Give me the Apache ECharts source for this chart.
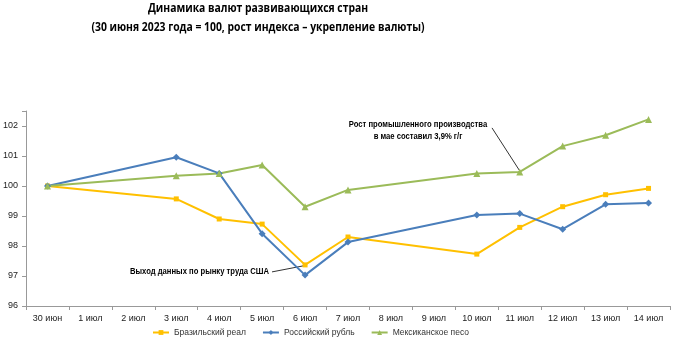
<!DOCTYPE html>
<html>
<head>
<meta charset="utf-8">
<script src="https://cdn.jsdelivr.net/npm/echarts@6/dist/echarts.min.js"></script>
<style>
html,body{margin:0;padding:0;background:#fff;}
#chart{width:676px;height:339px;}
</style>
</head>
<body>
<div id="chart"></div>
<script>
const categories = ['30 июн','1 июл','2 июл','3 июл','4 июл','5 июл','6 июл','7 июл','8 июл','9 июл','10 июл','11 июл','12 июл','13 июл','14 июл'];
const brazil = [100, null, null, 99.57, 98.9, 98.73, 97.37, 98.3, null, null, 97.73, 98.62, 99.31, 99.71, 99.92];
const russia = [100, null, null, 100.96, 100.42, 98.41, 97.03, 98.13, null, null, 99.03, 99.08, 98.56, 99.39, 99.43];
const mexico = [100, null, null, 100.34, 100.42, 100.7, 99.31, 99.87, null, null, 100.42, 100.47, 101.33, 101.69, 102.22];
const yTicks = [96, 97, 98, 99, 100, 101, 102];
const titleLines = ['Динамика валют развивающихся стран', '(30 июня 2023 года = 100, рост индекса – укрепление валюты)'];
const note1 = 'Выход данных по рынку труда США';
const note2a = 'Рост промышленного производства';
const note2b = 'в мае составил 3,9% г/г';

const font = 'Liberation Sans, Arial, sans-serif';
const chart = echarts.init(document.getElementById('chart'));

const ctx = document.createElement('canvas').getContext('2d');
function fitScale(text, f, target) {
  ctx.font = f;
  return target / ctx.measureText(text).width;
}
const titleFont = 'bold 13px "Open Sans", sans-serif';
const titleScale = fitScale(titleLines[1], titleFont, 333);
const noteFont = 'bold 9px ' + font;
const noteScale = fitScale(note1, noteFont, 139);

function mkSeries(name, data, color, symbol, size) {
  return {
    name, type: 'line', data, connectNulls: true,
    symbol, symbolSize: size,
    lineStyle: {color, width: 2},
    itemStyle: {color},
    emphasis: {disabled: true},
    animation: false
  };
}

chart.setOption({
  animation: false,
  grid: {left: 25, right: 6, top: 111, bottom: 33, containLabel: false},
  legend: {
    top: 323, left: 147, itemWidth: 16, itemHeight: 6, itemGap: 16,
    textStyle: {fontFamily: font, fontSize: 8.5, color: '#333'},
    data: ['Бразильский реал', 'Российский рубль', 'Мексиканское песо']
  },
  xAxis: {
    type: 'category', data: categories, boundaryGap: true,
    axisLine: {lineStyle: {color: '#999', width: 1}},
    axisTick: {show: true, length: 4, lineStyle: {color: '#999'}},
    axisLabel: {fontFamily: font, fontSize: 9, color: '#222', margin: 8, interval: 0}
  },
  yAxis: {
    type: 'value', min: 96, max: 102.5, interval: 1,
    axisLine: {show: true, lineStyle: {color: '#999'}},
    axisTick: {show: true, length: 4, lineStyle: {color: '#999'}},
    splitLine: {show: false},
    axisLabel: {fontFamily: font, fontSize: 9, color: '#222', margin: 8,
      formatter: v => yTicks.includes(v) ? String(v) : ''}
  },
  series: [
    mkSeries('Бразильский реал', brazil, '#FFC000', 'rect', 5),
    mkSeries('Российский рубль', russia, '#4A7EBB', 'diamond', 7),
    mkSeries('Мексиканское песо', mexico, '#9BBB59', 'triangle', 7)
  ]
});

// annotations anchored to data points
const p1 = chart.convertToPixel({seriesIndex: 0}, [6, brazil[6]]);
const p2 = chart.convertToPixel({seriesIndex: 2}, [11, mexico[11]]);
chart.setOption({
  graphic: [
    {type: 'text', x: 258, y: 2, scaleX: titleScale,
     style: {text: titleLines[0], font: titleFont, fill: '#000', textAlign: 'center'}},
    {type: 'text', x: 258, y: 21, scaleX: titleScale,
     style: {text: titleLines[1], font: titleFont, fill: '#000', textAlign: 'center'}},
    {type: 'text', x: 269, y: p1[1] + 2, scaleX: noteScale,
     style: {text: note1, font: noteFont, fill: '#000', textAlign: 'right'}},
    {type: 'line', shape: {x1: 272, y1: p1[1] + 7, x2: p1[0] - 2, y2: p1[1] + 1},
     style: {stroke: '#333', lineWidth: 1}},
    {type: 'text', x: 418, y: p2[1] - 52, scaleX: noteScale,
     style: {text: note2a, font: noteFont, fill: '#000', textAlign: 'center'}},
    {type: 'text', x: 418, y: p2[1] - 40, scaleX: noteScale,
     style: {text: note2b, font: noteFont, fill: '#000', textAlign: 'center'}},
    {type: 'line', shape: {x1: 492, y1: p2[1] - 44, x2: p2[0], y2: p2[1] - 1},
     style: {stroke: '#333', lineWidth: 1}}
  ]
});
</script>
</body>
</html>
